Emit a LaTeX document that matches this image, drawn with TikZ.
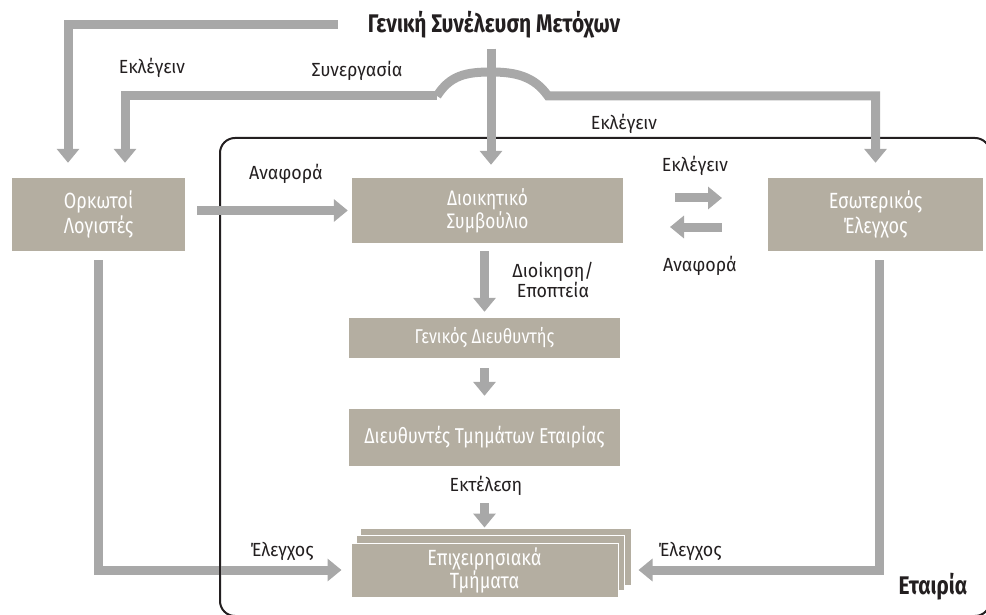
\documentclass[tikz,border=0pt]{standalone}
\usepackage{fontspec}
\setmainfont{Fira Sans}[FakeStretch=0.94]
\newfontfamily\condf{Fira Sans}[FakeStretch=0.82]
\usetikzlibrary{arrows.meta,calc}
\definecolor{boxc}{HTML}{B4AEA1}
\definecolor{arrc}{HTML}{A8A8A8}
\definecolor{txt}{HTML}{231F20}
\tikzset{
  box/.style={fill=boxc, text=white, inner sep=0pt, align=center,
    font=\condf\fontsize{22}{25}\selectfont},
  layer/.style={fill=boxc, draw=white, line width=1pt, inner sep=0pt},
  arr/.style={draw=arrc, line width=9pt, line join=miter,
    -{Triangle[width=22pt,length=14pt]}},
  lbl/.style={text=txt, inner sep=0pt, align=center,
    font=\fontsize{19}{20}\selectfont},
  headl/.style={text=txt, inner sep=0pt,
    font=\condf\fontsize{25.5}{27}\selectfont\bfseries},
  frame/.style={draw=txt, line width=2pt, rounded corners=15pt}
}
\begin{document}
\begin{tikzpicture}[x=1pt,y=-1pt]
\useasboundingbox (0,0) rectangle (986,615);
% company frame
\begin{scope}
  \clip (0,0) rectangle (986,615);
  \draw[frame] (220,138) rectangle (990,616);
\end{scope}
% boxes
\node[box, minimum width=173pt, minimum height=73pt] (ork) at (98.5,214.5) {Ορκωτοί\\Λογιστές};
\node[box, minimum width=271pt, minimum height=65pt, font=\condf\fontsize{21}{23}\selectfont] (ds) at (487.5,210.5) {Διοικητικό\\Συμβούλιο};
\node[box, minimum width=215pt, minimum height=73pt] (ee) at (875.5,214.5) {Εσωτερικός\\Έλεγχος};
\node[box, minimum width=271pt, minimum height=40pt, font=\condf\fontsize{20}{22}\selectfont] (gd) at (484.5,338) {Γενικός Διευθυντής};
\node[box, minimum width=271pt, minimum height=57pt, font=\condf\fontsize{21.5}{22}\selectfont] (dte) at (484.5,437.5) {Διευθυντές Τμημάτων Εταιρίας};
\node[layer, minimum width=271pt, minimum height=57pt] (ep3) at (495.5,556.5) {};
\node[layer, minimum width=268pt, minimum height=55pt] (ep2) at (490,562.5) {};
\node[box, draw=white, line width=1pt, minimum width=267pt, minimum height=54pt, font=\condf\fontsize{22}{23}\selectfont] (ep) at (484.5,570) {Επιχειρησιακά\\Τμήματα};
% title and labels
\node[headl] (title) at (494,25) {Γενική Συνέλευση Μετόχων};
\node[lbl] (l1) at (152,68) {Εκλέγειν};
\node[lbl] (l2) at (357,71) {Συνεργασία};
\node[lbl] (l3) at (624,124) {Εκλέγειν};
\node[lbl] (l4) at (286,174) {Αναφορά};
\node[lbl] (l5) at (695,166) {Εκλέγειν};
\node[lbl] (l6) at (700,266) {Αναφορά};
\node[lbl] (l7) at (553,280) {Διοίκηση/\\Εποπτεία};
\node[lbl] (l8) at (486,486) {Εκτέλεση};
\node[lbl] (l9) at (282,551) {Έλεγχος};
\node[lbl] (l10) at (690,551) {Έλεγχος};
\node[headl] (co) at (933,587) {Εταιρία};
% connector ends
\coordinate (t1) at (338,25);
\coordinate (s1) at (125,96);
\coordinate (bumpL) at (437,96);
\coordinate (bumpR) at (548,96);
\coordinate (r1a) at (675,198);
\coordinate (r1b) at (722,198);
\coordinate (r2a) at (670,227);
\coordinate (r2b) at (722,227);
% arrows
\draw[arr, shorten >=15pt] (t1) -| ([xshift=-30.5pt]ork.north);
\draw[arr, shorten >=15pt] (bumpL)
   .. controls (450,75) and (467,72) .. (491,72)
   .. controls (515,72) and (534,76) .. (bumpR) -| (ee.north);
\draw[arr, shorten >=15pt] (bumpL) -- (s1) -- ([xshift=26.5pt]ork.north);
\draw[arr, shorten >=13pt] ([yshift=-10pt]title.south -| ds.north) ++(3.5,0) coordinate (cv) -- (cv |- ds.north);
\draw[arr, shorten <=12pt, shorten >=4pt] (ork.east |- ds) -- (ds.west);
\draw[arr] (r1a) -- (r1b);
\draw[arr] (r2b) -- (r2a);
\draw[arr, shorten <=8pt, shorten >=6pt] (ds.south -| gd.north) -- (gd.north);
\draw[arr, shorten <=10pt, shorten >=13pt] (gd.south) -- (dte.north);
\draw[arr, shorten <=37pt, shorten >=0pt] (dte.south) -- (dte.south |- ep3.north);
\draw[arr, shorten <=9pt, shorten >=9pt] (ork.south) |- (ep.west);
\draw[arr, shorten <=9pt, shorten >=20pt] ([xshift=3.5pt]ee.south) |- (ep.east);
% frame edge over the left control bar
\draw[txt, line width=2pt] (220,555) -- (220,590);
\end{tikzpicture}
\end{document}
